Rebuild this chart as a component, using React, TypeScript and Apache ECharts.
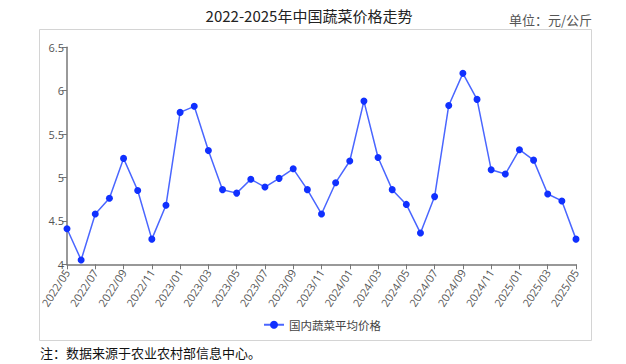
import React, { useEffect, useRef } from "react";
import * as echarts from "echarts";

const months: string[] = [
  "2022/05","2022/06","2022/07","2022/08","2022/09","2022/10","2022/11","2022/12",
  "2023/01","2023/02","2023/03","2023/04","2023/05","2023/06","2023/07","2023/08",
  "2023/09","2023/10","2023/11","2023/12","2024/01","2024/02","2024/03","2024/04",
  "2024/05","2024/06","2024/07","2024/08","2024/09","2024/10","2024/11","2024/12",
  "2025/01","2025/02","2025/03","2025/04","2025/05",
];

const prices: number[] = [
  4.41, 4.05, 4.58, 4.76, 5.22, 4.85, 4.29, 4.68,
  5.75, 5.82, 5.31, 4.86, 4.82, 4.98, 4.89, 4.99,
  5.10, 4.86, 4.58, 4.94, 5.19, 5.88, 5.23, 4.86,
  4.69, 4.36, 4.78, 5.83, 6.20, 5.90, 5.09, 5.04,
  5.32, 5.20, 4.81, 4.73, 4.29,
];

const seriesName = "国内蔬菜平均价格";
const titleText = "2022-2025年中国蔬菜价格走势";
const unitText = "单位：元/公斤";
const noteText = "注：数据来源于农业农村部信息中心。";

export default function App() {
  const ref = useRef<HTMLDivElement>(null);
  useEffect(() => {
    if (!ref.current) return;
    const chart = echarts.init(ref.current, null, { renderer: "svg" });
    const cjk = "'Noto Sans CJK SC', sans-serif";
    chart.setOption({
      animation: false,
      backgroundColor: "#ffffff",
      textStyle: { fontFamily: cjk },
      graphic: [
        {
          type: "rect",
          shape: { x: 39.5, y: 29.5, width: 552, height: 311 },
          style: { fill: "none", stroke: "#d4d4d4", lineWidth: 1 },
          silent: true,
        },
        {
          type: "text",
          x: 309,
          y: 15,
          style: {
            text: titleText,
            fill: "#222",
            font: `normal 400 15px ${cjk}`,
            textAlign: "center",
            textVerticalAlign: "middle",
          },
        },
        {
          type: "text",
          x: 592,
          y: 19,
          style: {
            text: unitText,
            fill: "#555",
            font: `13px ${cjk}`,
            textAlign: "right",
            textVerticalAlign: "middle",
          },
        },
        {
          type: "text",
          x: 40,
          y: 352,
          style: {
            text: noteText,
            fill: "#111",
            font: `13px ${cjk}`,
            textAlign: "left",
            textVerticalAlign: "middle",
          },
        },
      ],
      legend: {
        data: [seriesName],
        left: 263,
        top: 319,
        padding: 0,
        itemWidth: 20,
        itemHeight: 10,
        itemGap: 5,
        textStyle: { fontSize: 11.5, color: "#444", fontFamily: cjk },
      },
      grid: { left: 67, right: 50, top: 47.3, bottom: 99.7, containLabel: false },
      xAxis: {
        type: "category",
        data: months,
        boundaryGap: false,
        axisLine: { lineStyle: { color: "#777", width: 1.5 } },
        axisTick: { interval: 1, length: 5, lineStyle: { color: "#777" } },
        axisLabel: {
          interval: 1,
          rotate: 57,
          fontSize: 11,
          color: "#555",
          margin: 6,
          fontFamily: "'Open Sans', sans-serif",
        },
      },
      yAxis: {
        type: "value",
        min: 4,
        max: 6.5,
        interval: 0.5,
        axisLine: { show: true, lineStyle: { color: "#777", width: 1.5 } },
        axisTick: { show: true, length: 5, lineStyle: { color: "#777" } },
        splitLine: { show: false },
        axisLabel: {
          fontSize: 11,
          color: "#555",
          margin: 3,
          fontFamily: "'Open Sans', sans-serif",
        },
      },
      series: [
        {
          name: seriesName,
          type: "line",
          data: prices,
          symbol: "circle",
          symbolSize: 7,
          showSymbol: true,
          lineStyle: { color: "#4a66ff", width: 1.5 },
          itemStyle: { color: "#1030ff" },
        },
      ],
    });
    return () => chart.dispose();
  }, []);
  return (
    <div
      ref={ref}
      style={{ position: "fixed", left: 0, top: 0, width: 626, height: 364 }}
    />
  );
}
